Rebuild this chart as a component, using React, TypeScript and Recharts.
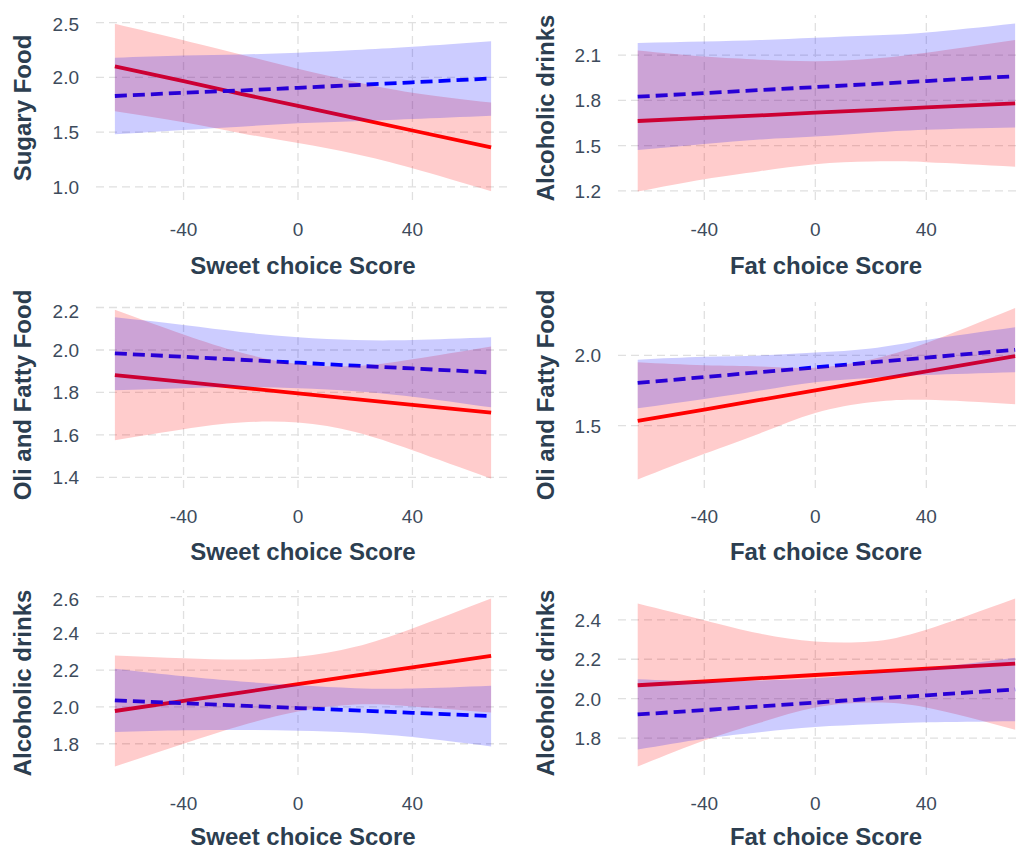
import React from 'react';
import { ComposedChart, Area, Line, XAxis, YAxis, ReferenceLine } from 'recharts';

// x positions of fitted values
const sweetX = [-64, -40, -20, 0, 20, 40, 67.5];
const fatX = [-64, -40, -20, 0, 20, 40, 72];
const xTicks = [-40, 0, 40];

// Panel 1: Sugary Food vs Sweet choice Score
const p1RedFit = [2.1, 1.965, 1.85, 1.74, 1.627, 1.515, 1.36];
const p1RedLo = [1.69, 1.59, 1.49, 1.4, 1.3, 1.17, 0.96];
const p1RedHi = [2.49, 2.34, 2.21, 2.08, 1.96, 1.86, 1.77];
const p1BlueFit = [1.83, 1.86, 1.88, 1.905, 1.93, 1.955, 1.99];
const p1BlueLo = [1.48, 1.52, 1.55, 1.58, 1.6, 1.62, 1.65];
const p1BlueHi = [2.18, 2.2, 2.21, 2.225, 2.25, 2.28, 2.33];

// Panel 2: Alcoholic drinks vs Fat choice Score
const p2RedFit = [1.663, 1.684, 1.7, 1.718, 1.735, 1.753, 1.78];
const p2RedLo = [1.195, 1.277, 1.33, 1.376, 1.394, 1.39, 1.36];
const p2RedHi = [2.13, 2.09, 2.07, 2.06, 2.076, 2.116, 2.2];
const p2BlueFit = [1.824, 1.848, 1.868, 1.888, 1.908, 1.928, 1.96];
const p2BlueLo = [1.47, 1.51, 1.54, 1.56, 1.585, 1.605, 1.62];
const p2BlueHi = [2.18, 2.19, 2.2, 2.215, 2.23, 2.25, 2.31];

// Panel 3: Oli and Fatty Food vs Sweet choice Score
const p3RedFit = [1.882, 1.85, 1.823, 1.796, 1.769, 1.742, 1.705];
const p3RedLo = [1.575, 1.627, 1.658, 1.658, 1.614, 1.528, 1.394];
const p3RedHi = [2.19, 2.073, 1.988, 1.934, 1.924, 1.956, 2.016];
const p3BlueFit = [1.984, 1.968, 1.954, 1.94, 1.926, 1.913, 1.894];
const p3BlueLo = [1.81, 1.82, 1.826, 1.82, 1.806, 1.78, 1.73];
const p3BlueHi = [2.154, 2.118, 2.085, 2.06, 2.047, 2.047, 2.06];

// Panel 4: Oli and Fatty Food vs Fat choice Score
const p4RedFit = [1.534, 1.615, 1.683, 1.751, 1.819, 1.886, 1.995];
const p4RedLo = [1.117, 1.3, 1.445, 1.59, 1.667, 1.684, 1.653];
const p4RedHi = [1.951, 1.93, 1.921, 1.912, 1.971, 2.088, 2.337];
const p4BlueFit = [1.804, 1.846, 1.881, 1.915, 1.95, 1.984, 2.04];
const p4BlueLo = [1.624, 1.69, 1.75, 1.81, 1.84, 1.86, 1.88];
const p4BlueHi = [1.97, 1.99, 2.0, 2.02, 2.05, 2.11, 2.2];

// Panel 5: Alcoholic drinks vs Sweet choice Score
const p5RedFit = [1.978, 2.033, 2.078, 2.124, 2.17, 2.215, 2.278];
const p5RedLo = [1.676, 1.8, 1.898, 1.975, 2.013, 2.003, 1.97];
const p5RedHi = [2.28, 2.265, 2.258, 2.273, 2.327, 2.427, 2.59];
const p5BlueFit = [2.036, 2.02, 2.007, 1.994, 1.981, 1.968, 1.95];
const p5BlueLo = [1.864, 1.873, 1.875, 1.87, 1.86, 1.836, 1.785];
const p5BlueHi = [2.208, 2.167, 2.139, 2.118, 2.102, 2.1, 2.115];

// Panel 6: Alcoholic drinks vs Fat choice Score
const p6RedFit = [2.068, 2.087, 2.104, 2.12, 2.136, 2.152, 2.178];
const p6RedLo = [1.656, 1.788, 1.878, 1.955, 1.98, 1.955, 1.842];
const p6RedHi = [2.483, 2.398, 2.33, 2.29, 2.29, 2.35, 2.508];
const p6BlueFit = [1.92, 1.942, 1.961, 1.98, 1.999, 2.017, 2.047];
const p6BlueLo = [1.742, 1.797, 1.83, 1.856, 1.87, 1.88, 1.886];
const p6BlueHi = [2.098, 2.087, 2.092, 2.104, 2.128, 2.154, 2.208];

const p1YTicks = [1.0, 1.5, 2.0, 2.5];
const p2YTicks = [1.2, 1.5, 1.8, 2.1];
const p3YTicks = [1.4, 1.6, 1.8, 2.0, 2.2];
const p4YTicks = [1.5, 2.0];
const p5YTicks = [1.8, 2.0, 2.2, 2.4, 2.6];
const p6YTicks = [1.8, 2.0, 2.2, 2.4];

const FONT = '"Liberation Sans", Arial, Helvetica, sans-serif';
const TICK_COLOR = '#3d4b5c';
const TITLE_COLOR = '#2c3e50';
const GRID_COLOR = '#e0e0e0';
const TICK_FS = 19;

function build(xs: number[], rf: number[], rl: number[], rh: number[], bf: number[], bl: number[], bh: number[]) {
  return xs.map((x, i) => ({
    x,
    redFit: rf[i],
    redBand: [rl[i], rh[i]],
    blueFit: bf[i],
    blueBand: [bl[i], bh[i]],
  }));
}

type PanelProps = {
  data: any[];
  plotLeft: number;
  plotRight: number;
  plotTop: number;
  plotBottom: number;
  xDomain: [number, number];
  yDomain: [number, number];
  yTicks: number[];
  yTitle: string;
  xTitle: string;
  yTitleX: number;
  xTickCenterY: number;
  xTitleY: number;
};

const Y_AXIS_W = 90;
const X_AXIS_H = 50;

function XTick(props: any) {
  const { x, y, payload } = props;
  return (
    <text
      x={x}
      y={y}
      dy={7}
      textAnchor="middle"
      fontSize={TICK_FS}
      fontFamily={FONT}
      fill={TICK_COLOR}
    >
      {payload.value}
    </text>
  );
}

function YTick(props: any) {
  const { x, y, payload } = props;
  return (
    <text
      x={x}
      y={y}
      dy={7}
      textAnchor="end"
      fontSize={TICK_FS}
      fontFamily={FONT}
      fill={TICK_COLOR}
    >
      {Number(payload.value).toFixed(1)}
    </text>
  );
}

function Panel(p: PanelProps) {
  const plotW = p.plotRight - p.plotLeft;
  const plotH = p.plotBottom - p.plotTop;
  const chartLeft = p.plotLeft - Y_AXIS_W;
  const chartW = plotW + Y_AXIS_W;
  const chartH = plotH + X_AXIS_H;
  return (
    <>
      <div style={{ position: 'absolute', left: chartLeft, top: p.plotTop }}>
        <ComposedChart
          width={chartW}
          height={chartH}
          data={p.data}
          margin={{ top: 0, right: 0, bottom: 0, left: 0 }}
        >
          <XAxis
            dataKey="x"
            type="number"
            domain={p.xDomain}
            ticks={xTicks}
            allowDataOverflow
            axisLine={false}
            tickLine={false}
            tickSize={0}
            tickMargin={p.xTickCenterY - p.plotBottom}
            height={X_AXIS_H}
            tick={<XTick />}
          />
          <YAxis
            type="number"
            domain={p.yDomain}
            ticks={p.yTicks}
            allowDataOverflow
            axisLine={false}
            tickLine={false}
            tickSize={0}
            tickMargin={17}
            width={Y_AXIS_W}
            tick={<YTick />}
          />
          {p.yTicks.map((v) => (
            <ReferenceLine
              key={'h' + v}
              y={v}
              stroke={GRID_COLOR}
              strokeWidth={1.3}
              strokeDasharray="8 5"
              zIndex={-100}
            />
          ))}
          {xTicks.map((v) => (
            <ReferenceLine
              key={'v' + v}
              x={v}
              stroke={GRID_COLOR}
              strokeWidth={1.3}
              strokeDasharray="8 5"
              zIndex={-100}
            />
          ))}
          <Line
            type="linear"
            dataKey="redFit"
            stroke="#ff0000"
            strokeWidth={3.8}
            dot={false}
            activeDot={false}
            isAnimationActive={false}
            zIndex={50}
          />
          <Line
            type="linear"
            dataKey="blueFit"
            stroke="#0000ff"
            strokeWidth={3.8}
            strokeDasharray="12 6"
            dot={false}
            activeDot={false}
            isAnimationActive={false}
            zIndex={51}
          />
          <Area
            type="natural"
            dataKey="redBand"
            stroke="none"
            fill="#ff0000"
            fillOpacity={0.2}
            activeDot={false}
            isAnimationActive={false}
            zIndex={100}
          />
          <Area
            type="natural"
            dataKey="blueBand"
            stroke="none"
            fill="#0000ff"
            fillOpacity={0.2}
            activeDot={false}
            isAnimationActive={false}
            zIndex={101}
          />
        </ComposedChart>
      </div>
      <div
        style={{
          position: 'absolute',
          left: p.yTitleX,
          top: (p.plotTop + p.plotBottom) / 2,
          transform: 'translate(-50%, -50%) rotate(-90deg)',
          whiteSpace: 'nowrap',
          fontFamily: FONT,
          fontWeight: 'bold',
          fontSize: 24,
          color: TITLE_COLOR,
          lineHeight: '28px',
        }}
      >
        {p.yTitle}
      </div>
      <div
        style={{
          position: 'absolute',
          left: (p.plotLeft + p.plotRight) / 2,
          top: p.xTitleY,
          transform: 'translate(-50%, -50%)',
          whiteSpace: 'nowrap',
          fontFamily: FONT,
          fontWeight: 'bold',
          fontSize: 24,
          color: TITLE_COLOR,
          lineHeight: '28px',
        }}
      >
        {p.xTitle}
      </div>
    </>
  );
}

const leftX: [number, number] = [-70.6, 74.1];
const rightX: [number, number] = [-71.1, 78.8];
const rows = [
  { top: 15, bottom: 200, tickY: 229, titleY: 266 },
  { top: 302, bottom: 488, tickY: 516, titleY: 552 },
  { top: 590, bottom: 775, tickY: 803, titleY: 837 },
];

export default function App() {
  const panels: PanelProps[] = [
    {
      data: build(sweetX, p1RedFit, p1RedLo, p1RedHi, p1BlueFit, p1BlueLo, p1BlueHi),
      plotLeft: 96, plotRight: 510, plotTop: rows[0].top, plotBottom: rows[0].bottom,
      xDomain: leftX, yDomain: [0.88, 2.57], yTicks: p1YTicks,
      yTitle: 'Sugary Food', xTitle: 'Sweet choice Score', yTitleX: 23,
      xTickCenterY: rows[0].tickY, xTitleY: rows[0].titleY,
    },
    {
      data: build(fatX, p2RedFit, p2RedLo, p2RedHi, p2BlueFit, p2BlueLo, p2BlueHi),
      plotLeft: 618, plotRight: 1034, plotTop: rows[0].top, plotBottom: rows[0].bottom,
      xDomain: rightX, yDomain: [1.139, 2.366], yTicks: p2YTicks,
      yTitle: 'Alcoholic drinks', xTitle: 'Fat choice Score', yTitleX: 546,
      xTickCenterY: rows[0].tickY, xTitleY: rows[0].titleY,
    },
    {
      data: build(sweetX, p3RedFit, p3RedLo, p3RedHi, p3BlueFit, p3BlueLo, p3BlueHi),
      plotLeft: 96, plotRight: 510, plotTop: rows[1].top, plotBottom: rows[1].bottom,
      xDomain: leftX, yDomain: [1.35, 2.226], yTicks: p3YTicks,
      yTitle: 'Oli and Fatty Food', xTitle: 'Sweet choice Score', yTitleX: 23,
      xTickCenterY: rows[1].tickY, xTitleY: rows[1].titleY,
    },
    {
      data: build(fatX, p4RedFit, p4RedLo, p4RedHi, p4BlueFit, p4BlueLo, p4BlueHi),
      plotLeft: 618, plotRight: 1034, plotTop: rows[1].top, plotBottom: rows[1].bottom,
      xDomain: rightX, yDomain: [1.057, 2.38], yTicks: p4YTicks,
      yTitle: 'Oli and Fatty Food', xTitle: 'Fat choice Score', yTitleX: 546,
      xTickCenterY: rows[1].tickY, xTitleY: rows[1].titleY,
    },
    {
      data: build(sweetX, p5RedFit, p5RedLo, p5RedHi, p5BlueFit, p5BlueLo, p5BlueHi),
      plotLeft: 96, plotRight: 510, plotTop: rows[2].top, plotBottom: rows[2].bottom,
      xDomain: leftX, yDomain: [1.63, 2.636], yTicks: p5YTicks,
      yTitle: 'Alcoholic drinks', xTitle: 'Sweet choice Score', yTitleX: 23,
      xTickCenterY: rows[2].tickY, xTitleY: rows[2].titleY,
    },
    {
      data: build(fatX, p6RedFit, p6RedLo, p6RedHi, p6BlueFit, p6BlueLo, p6BlueHi),
      plotLeft: 618, plotRight: 1034, plotTop: rows[2].top, plotBottom: rows[2].bottom,
      xDomain: rightX, yDomain: [1.613, 2.551], yTicks: p6YTicks,
      yTitle: 'Alcoholic drinks', xTitle: 'Fat choice Score', yTitleX: 546,
      xTickCenterY: rows[2].tickY, xTitleY: rows[2].titleY,
    },
  ];
  return (
    <div
      style={{
        position: 'absolute',
        left: 0,
        top: 0,
        width: 1019,
        height: 850,
        overflow: 'hidden',
        background: '#ffffff',
      }}
    >
      {panels.map((p, i) => (
        <Panel key={i} {...p} />
      ))}
    </div>
  );
}
